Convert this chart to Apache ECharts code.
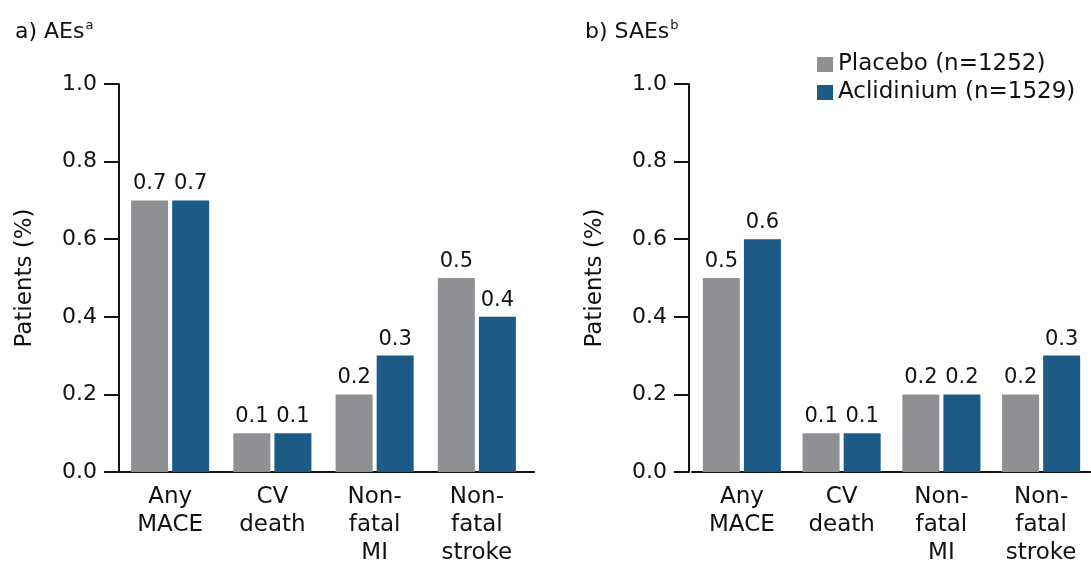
<!DOCTYPE html>
<html>
<head>
<meta charset="utf-8">
<script src="https://cdn.jsdelivr.net/npm/echarts@6/dist/echarts.min.js"></script>
<style>
html,body{margin:0;padding:0;background:#fff;}
#chart{width:1091px;height:567px;}
</style>
</head>
<body>
<div id="chart"></div>
<script>
const categories = ['Any\nMACE', 'CV\ndeath', 'Non-\nfatal\nMI', 'Non-\nfatal\nstroke'];
const seriesNames = ['Placebo (n=1252)', 'Aclidinium (n=1529)'];
const aesPlacebo = [0.7, 0.1, 0.2, 0.5];
const aesAclidinium = [0.7, 0.1, 0.3, 0.4];
const saesPlacebo = [0.5, 0.1, 0.2, 0.2];
const saesAclidinium = [0.6, 0.1, 0.2, 0.3];
const yTicks = [0, 0.2, 0.4, 0.6, 0.8, 1.0];
const panelTitles = ['a) AEs', 'b) SAEs'];
const panelSup = ['a', 'b'];
const yAxisName = 'Patients (%)';

const FONT = '"DejaVu Sans", "Open Sans", sans-serif';
const TXT = '#111';
const GRAY = '#8e9093';
const BLUE = '#1b5b86';

const chart = echarts.init(document.getElementById('chart'), null, {renderer: 'canvas'});

function xAxis(gi) {
  return {
    type: 'category', gridIndex: gi, data: categories,
    axisTick: {show: false},
    axisLine: {lineStyle: {color: '#111', width: 2}},
    axisLabel: {interval: 0, fontSize: 23, lineHeight: 28, color: TXT, fontFamily: FONT, margin: 11}
  };
}
function yAxis(gi, offset) {
  return {
    type: 'value', gridIndex: gi, min: yTicks[0], max: yTicks[yTicks.length - 1],
    interval: yTicks[1] - yTicks[0], offset: offset,
    name: yAxisName, nameLocation: 'middle', nameGap: 82,
    nameTextStyle: {fontSize: 23, color: TXT, fontFamily: FONT},
    axisLine: {show: true, lineStyle: {color: '#111', width: 2}},
    axisTick: {show: true, length: 15, lineStyle: {color: '#111', width: 2}},
    splitLine: {show: false},
    axisLabel: {fontSize: 22, color: TXT, fontFamily: FONT, margin: 22,
      formatter: v => v.toFixed(1)}
  };
}
function bar(name, data, color, idx) {
  return {
    name: name, type: 'bar', xAxisIndex: idx, yAxisIndex: idx, data: data,
    barWidth: 37, barGap: '11%',
    itemStyle: {color: color},
    label: {show: true, position: 'top', distance: 6, fontSize: 21, color: TXT, fontFamily: FONT,
      formatter: p => p.value.toFixed(1)}
  };
}
function title(i, left) {
  return {
    text: '{t|' + panelTitles[i] + '}{s|' + panelSup[i] + '}',
    left: left, top: 14,
    textStyle: {rich: {
      t: {fontSize: 22, fontWeight: 'normal', color: TXT, fontFamily: FONT, verticalAlign: 'bottom'},
      s: {fontSize: 13, fontWeight: 'normal', color: TXT, fontFamily: FONT, verticalAlign: 'bottom', padding: [0, 0, 11, 1]}
    }}
  };
}

chart.setOption({
  backgroundColor: '#fff',
  animation: false,
  title: [title(0, 10), title(1, 580)],
  legend: {
    data: seriesNames, orient: 'vertical', left: 812, top: 48,
    itemWidth: 16, itemHeight: 15, itemGap: 5, icon: 'rect',
    textStyle: {fontSize: 23, lineHeight: 23, color: TXT, fontFamily: FONT}
  },
  grid: [
    {left: 119, top: 84, width: 409, height: 392},
    {left: 692, top: 84, width: 409, height: 392}
  ],
  xAxis: [xAxis(0), xAxis(1)],
  yAxis: [yAxis(0, 0), yAxis(1, 3)],
  series: [
    bar(seriesNames[0], aesPlacebo, GRAY, 0),
    bar(seriesNames[1], aesAclidinium, BLUE, 0),
    bar(seriesNames[0], saesPlacebo, GRAY, 1),
    bar(seriesNames[1], saesAclidinium, BLUE, 1)
  ]
});

// extend the left panel's baseline a little past the last category, as in the original
const y0 = chart.convertToPixel({yAxisIndex: 0}, 0);
const xEnd = chart.convertToPixel({xAxisIndex: 0}, categories[categories.length - 1]);
chart.setOption({
  graphic: [{type: 'line', shape: {x1: xEnd + 40, y1: Math.round(y0), x2: xEnd + 58, y2: Math.round(y0)},
    style: {stroke: '#111', lineWidth: 2}}]
});
</script>
</body>
</html>
